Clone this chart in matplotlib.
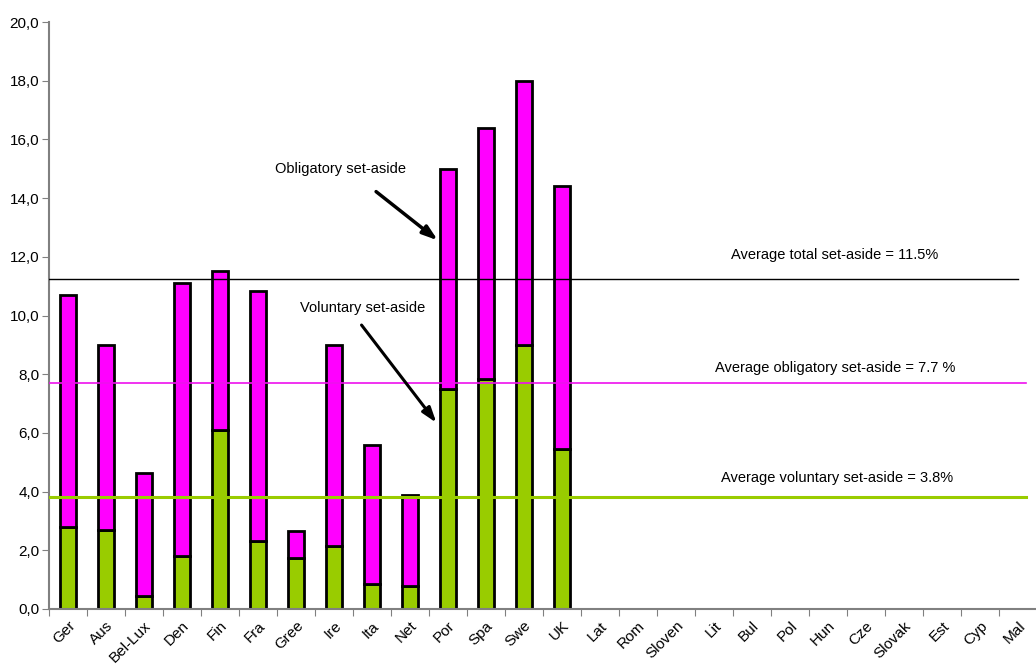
import matplotlib
matplotlib.use("Agg")
import matplotlib.pyplot as plt
import numpy as np

plt.rcParams['font.family'] = ['Liberation Sans', 'DejaVu Sans']

countries = ["Ger", "Aus", "Bel-Lux", "Den", "Fin", "Fra", "Gree", "Ire", "Ita", "Net",
             "Por", "Spa", "Swe", "UK", "Lat", "Rom", "Sloven", "Lit", "Bul", "Pol",
             "Hun", "Cze", "Slovak", "Est", "Cyp", "Mal"]
voluntary = [2.8, 2.7, 0.45, 1.8, 6.1, 2.3, 1.75, 2.15, 0.85, 0.8,
             7.5, 7.85, 9.0, 5.45]
total = [10.7, 9.0, 4.65, 11.1, 11.5, 10.85, 2.65, 9.0, 5.6, 3.9,
         15.0, 16.4, 18.0, 14.4]
obligatory = [t - v for t, v in zip(total, voluntary)]

avg_total_line = 11.25
avg_oblig_line = 7.7
avg_vol_line = 3.83
yticks = [0, 2, 4, 6, 8, 10, 12, 14, 16, 18, 20]

GREEN = "#99cc00"
MAGENTA = "#ff00ff"

fig = plt.figure(figsize=(10.36, 6.66), dpi=100)
ax = fig.add_axes([49/1036, 1-609/666, 988/1036, (609-22)/666])

x = np.arange(len(voluntary))
ax.bar(x, voluntary, width=0.42, color=GREEN, edgecolor="black", linewidth=2, zorder=2)
ax.bar(x, obligatory, bottom=voluntary, width=0.42, color=MAGENTA, edgecolor="black",
       linewidth=2, zorder=2)

ax.plot([-0.5, 25.0], [avg_total_line]*2, color="black", lw=1, zorder=3)
ax.plot([-0.5, 25.2], [avg_oblig_line]*2, color="#ee11ee", lw=1.2, zorder=3)
ax.plot([-0.5, 25.2], [avg_vol_line]*2, color=GREEN, lw=2.2, zorder=3)

ax.set_xlim(-0.5, len(countries) - 0.5)
ax.set_ylim(0, 20)
ax.set_yticks(yticks)
ax.set_yticklabels([f"{v:.1f}".replace(".", ",") for v in yticks], fontsize=11)
ax.set_xticks(np.arange(len(countries) + 1) - 0.5, minor=False)
ax.set_xticklabels([])
ax.set_xticks(np.arange(len(countries)), minor=True)
ax.set_xticklabels(countries, minor=True, rotation=45, ha="right", va="top",
                   rotation_mode="anchor", fontsize=11)
ax.tick_params(axis="x", which="minor", length=0, pad=7)
ax.tick_params(axis="x", which="major", length=5, color="#808080", direction="out")
ax.tick_params(axis="y", length=5, color="#808080", direction="out", pad=2)

for s in ["top", "right"]:
    ax.spines[s].set_visible(False)
for s in ["left", "bottom"]:
    ax.spines[s].set_color("#808080")
    ax.spines[s].set_linewidth(1.5)

fs = 10.5
ax.text(20.18, 12.05, "Average total set-aside = 11.5%", ha="center", va="center", fontsize=fs)
ax.text(20.2, 8.2, "Average obligatory set-aside = 7.7 %", ha="center", va="center", fontsize=fs)
ax.text(20.25, 4.45, "Average voluntary set-aside = 3.8%", ha="center", va="center", fontsize=fs)

ax.text(5.45, 15.0, "Obligatory set-aside", ha="left", va="center", fontsize=fs)
ax.text(6.1, 10.25, "Voluntary set-aside", ha="left", va="center", fontsize=fs)

ax.annotate("", xy=(9.79, 12.5), xytext=(8.05, 14.28),
            arrowprops=dict(arrowstyle="-|>,head_length=0.9,head_width=0.3", color="black", lw=2.5))
ax.annotate("", xy=(9.74, 6.27), xytext=(7.68, 9.75),
            arrowprops=dict(arrowstyle="-|>,head_length=0.9,head_width=0.3", color="black", lw=2.2))

fig.savefig("out.png", dpi=100)
